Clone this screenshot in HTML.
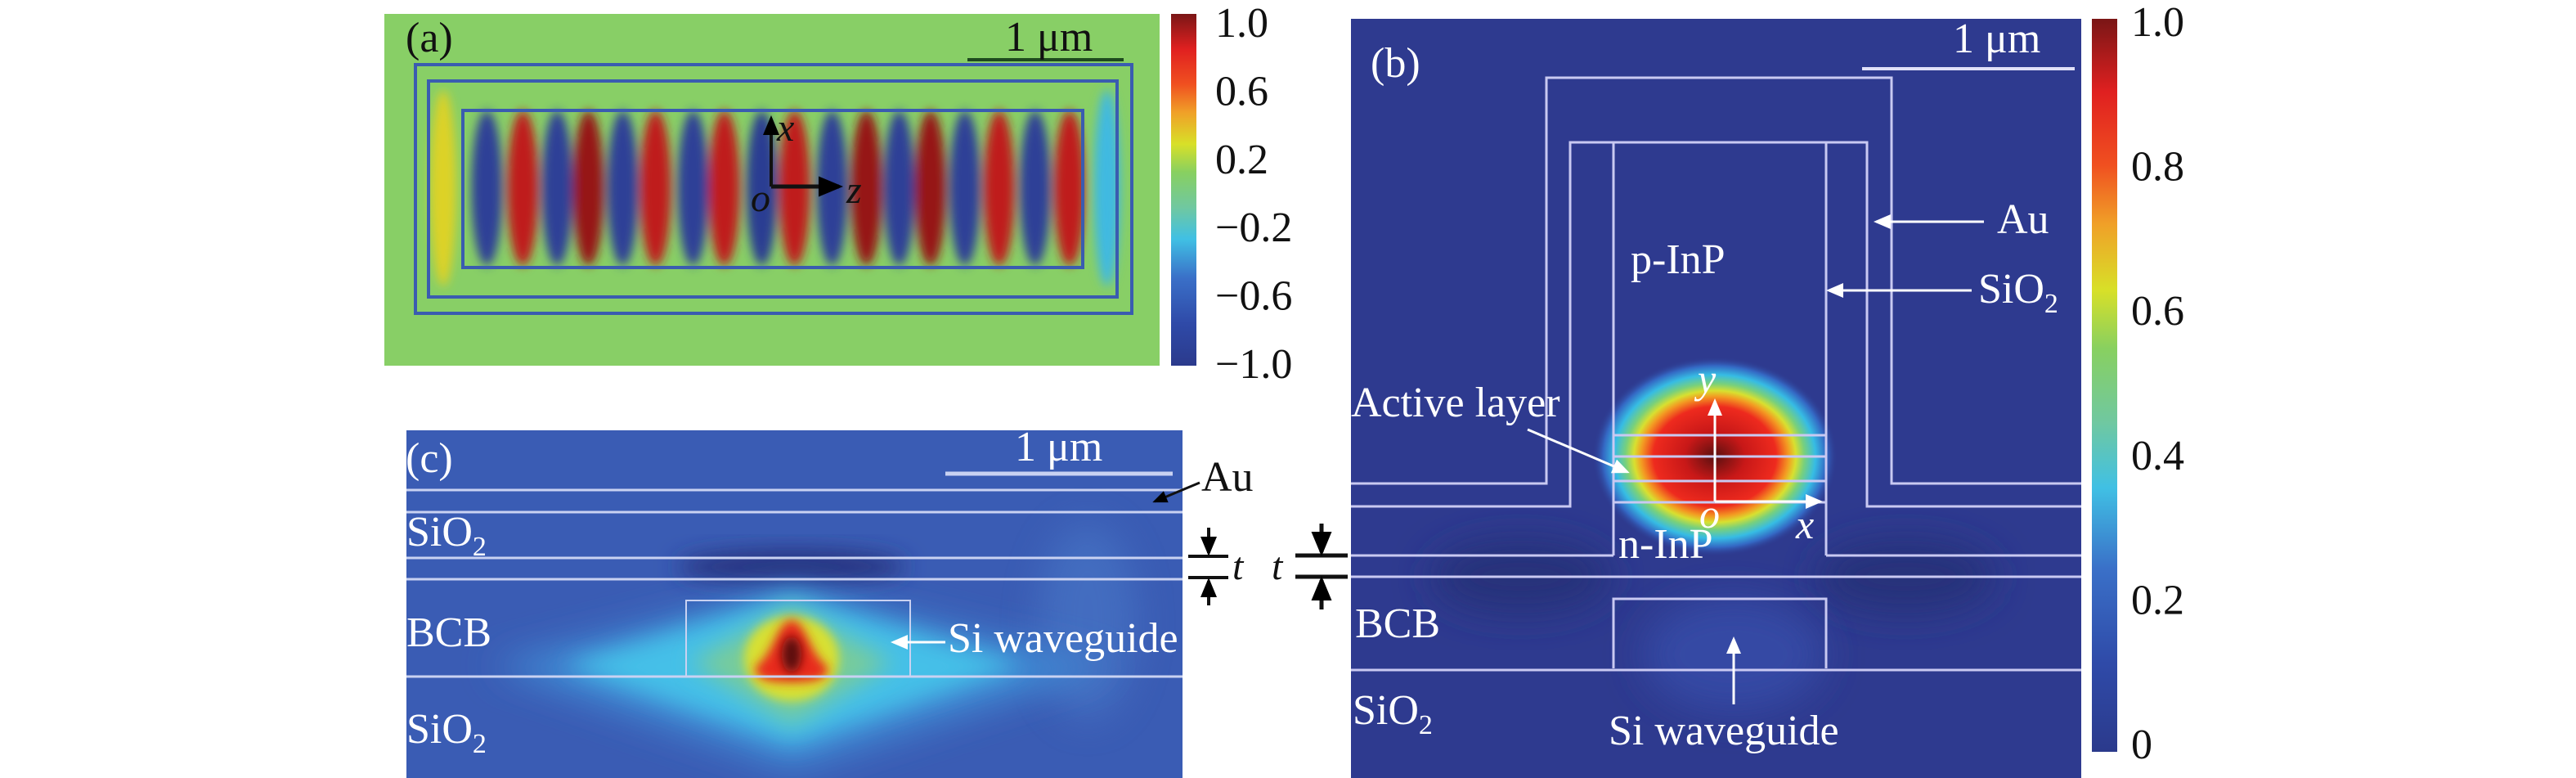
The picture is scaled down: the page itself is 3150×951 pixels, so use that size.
<!DOCTYPE html>
<html><head><meta charset="utf-8"><style>
html,body{margin:0;padding:0;background:#fff}
svg{display:block}
text{font-family:"Liberation Serif",serif}
</style></head><body>
<svg id="fig" width="3150" height="951" viewBox="0 0 3150 951" xmlns="http://www.w3.org/2000/svg">
<defs>
<filter id="blur8" x="-50%" y="-50%" width="200%" height="200%"><feGaussianBlur stdDeviation="6"/></filter>
<filter id="blur14" x="-50%" y="-50%" width="200%" height="200%"><feGaussianBlur stdDeviation="14"/></filter>
<filter id="blur20" x="-50%" y="-50%" width="200%" height="200%"><feGaussianBlur stdDeviation="22"/></filter>
<linearGradient id="cbA" x1="0" y1="1" x2="0" y2="0">
<stop offset="0" stop-color="#2b3a8c"/><stop offset="0.12" stop-color="#2f4aa8"/><stop offset="0.25" stop-color="#3a70c8"/>
<stop offset="0.36" stop-color="#40c0e4"/><stop offset="0.45" stop-color="#70c8a0"/><stop offset="0.55" stop-color="#88d060"/>
<stop offset="0.63" stop-color="#d8e028"/><stop offset="0.72" stop-color="#f0a028"/><stop offset="0.8" stop-color="#f05020"/>
<stop offset="0.9" stop-color="#e02020"/><stop offset="1" stop-color="#7a1616"/></linearGradient>
<linearGradient id="cbB" x1="0" y1="1" x2="0" y2="0">
<stop offset="0" stop-color="#2b3a8c"/><stop offset="0.12" stop-color="#2f4aa8"/><stop offset="0.25" stop-color="#3a70c8"/>
<stop offset="0.36" stop-color="#40c0e4"/><stop offset="0.45" stop-color="#70c8a0"/><stop offset="0.55" stop-color="#88d060"/>
<stop offset="0.63" stop-color="#d8e028"/><stop offset="0.72" stop-color="#f0a028"/><stop offset="0.8" stop-color="#f05020"/>
<stop offset="0.9" stop-color="#e02020"/><stop offset="1" stop-color="#7a1616"/></linearGradient>
<radialGradient id="blobB" cx="0.5" cy="0.5" r="0.5">
<stop offset="0" stop-color="#5a1010"/><stop offset="0.25" stop-color="#c81818"/><stop offset="0.5" stop-color="#ee2a1e"/>
<stop offset="0.6" stop-color="#f39a22"/><stop offset="0.66" stop-color="#d8e030"/><stop offset="0.73" stop-color="#78d07c"/>
<stop offset="0.82" stop-color="#36bce4"/><stop offset="0.91" stop-color="#3468c4"/><stop offset="1" stop-color="#2e3a8f" stop-opacity="0"/></radialGradient>
<marker id="arrW" markerWidth="8" markerHeight="8" refX="6" refY="4" orient="auto" markerUnits="strokeWidth"><path d="M0,1 L7,4 L0,7 z" fill="#fff"/></marker>
<marker id="arrK" markerWidth="6" markerHeight="6" refX="5" refY="3" orient="auto" markerUnits="strokeWidth"><path d="M0,0.5 L6,3 L0,5.5 z" fill="#000"/></marker>
<clipPath id="clipA"><rect x="470" y="17" width="948" height="430"/></clipPath>
<clipPath id="clipB"><rect x="1652" y="23" width="893" height="928"/></clipPath>
<clipPath id="clipC"><rect x="497" y="526" width="949" height="425"/></clipPath>
</defs>

<g>
<rect x="470" y="17" width="948" height="430" fill="#88cf66"/>
<g id="stripesA" clip-path="url(#clipA)" filter="url(#blur8)"></g>
<rect x="508" y="79" width="876" height="304" fill="none" stroke="#3a5cb0" stroke-width="4"/>
<rect x="524" y="99" width="842" height="264" fill="none" stroke="#3a5cb0" stroke-width="4"/>
<rect x="566" y="135" width="758" height="192" fill="none" stroke="#3a5cb0" stroke-width="4"/>
<line x1="1183" y1="73" x2="1374" y2="73" stroke="#1e4a1e" stroke-width="4"/>
<text x="1229" y="62" font-size="52" fill="#111">1 μm</text>
<text x="496" y="63" font-size="52" fill="#111">(a)</text>
<line x1="943" y1="228" x2="943" y2="145" stroke="#111" stroke-width="4" marker-end="url(#arrK)"/>
<line x1="943" y1="228" x2="1026" y2="228" stroke="#111" stroke-width="5" marker-end="url(#arrK)"/>
<text x="950" y="172" font-size="48" font-style="italic" fill="#111">x</text>
<text x="1035" y="248" font-size="48" font-style="italic" fill="#111">z</text>
<text x="918" y="258" font-size="48" font-style="italic" fill="#111">o</text>
<rect x="1432" y="17" width="31" height="430" fill="url(#cbA)"/>
<g id="ticksA"></g>
</g>

<g>
<rect x="1652" y="23" width="893" height="928" fill="#2e3a8f"/>
<g clip-path="url(#clipB)">
<ellipse cx="1860" cy="705" rx="110" ry="45" fill="#27307a" filter="url(#blur20)"/>
<ellipse cx="2330" cy="705" rx="110" ry="45" fill="#27307a" filter="url(#blur20)"/>
<ellipse cx="2120" cy="800" rx="110" ry="70" fill="#3448a4" filter="url(#blur20)"/>
<ellipse cx="2097" cy="558" rx="150" ry="122" fill="url(#blobB)"/>
</g>
<g fill="none" stroke="#c9c9f2" stroke-width="3">
<polyline points="1652,591 1891,591 1891,95 2313,95 2313,591 2545,591"/>
<polyline points="1652,619 1920,619 1920,174 2283,174 2283,619 2545,619"/>
<line x1="1973" y1="174" x2="1973" y2="679"/><line x1="2233" y1="174" x2="2233" y2="679"/>
<line x1="1652" y1="679" x2="1973" y2="679"/><line x1="2233" y1="679" x2="2545" y2="679"/>
<line x1="1652" y1="705" x2="2545" y2="705"/>
<line x1="1973" y1="532" x2="2233" y2="532"/><line x1="1973" y1="558" x2="2233" y2="558"/>
<line x1="1973" y1="588" x2="2233" y2="588"/><line x1="1973" y1="614" x2="2233" y2="614"/>
<polyline points="1973,817 1973,732 2233,732 2233,817"/>
<line x1="1652" y1="819" x2="2545" y2="819"/>
</g>
<line x1="2277" y1="84" x2="2537" y2="84" stroke="#e0e0f8" stroke-width="4"/>
<text x="2388" y="64" font-size="52" fill="#fff">1 μm</text>
<text x="1676" y="94" font-size="52" fill="#fff">(b)</text>
<text x="1994" y="334" font-size="52" fill="#fff">p-InP</text>
<text x="2442" y="285" font-size="52" fill="#fff">Au</text>
<line x1="2426" y1="271" x2="2294" y2="271" stroke="#fff" stroke-width="3" marker-end="url(#arrW)"/>
<text x="2419" y="370" font-size="52" fill="#fff">SiO<tspan font-size="34" dy="12">2</tspan></text>
<line x1="2411" y1="355" x2="2236" y2="355" stroke="#fff" stroke-width="3" marker-end="url(#arrW)"/>
<text x="1652" y="509" font-size="52" fill="#fff">Active layer</text>
<line x1="1868" y1="525" x2="1990" y2="577" stroke="#fff" stroke-width="3" marker-end="url(#arrW)"/>
<line x1="2097" y1="613" x2="2097" y2="490" stroke="#fff" stroke-width="3" marker-end="url(#arrW)"/>
<line x1="2097" y1="613" x2="2226" y2="613" stroke="#fff" stroke-width="3" marker-end="url(#arrW)"/>
<text x="2076" y="480" font-size="50" font-style="italic" fill="#fff">y</text>
<text x="2078" y="645" font-size="50" font-style="italic" fill="#fff">o</text>
<text x="2196" y="658" font-size="50" font-style="italic" fill="#fff">x</text>
<text x="1979" y="682" font-size="52" fill="#fff">n-InP</text>
<text x="1657" y="779" font-size="52" fill="#fff">BCB</text>
<text x="1654" y="885" font-size="52" fill="#fff">SiO<tspan font-size="34" dy="12">2</tspan></text>
<text x="1967" y="910" font-size="52" fill="#fff">Si waveguide</text>
<line x1="2120" y1="861" x2="2120" y2="781" stroke="#fff" stroke-width="3" marker-end="url(#arrW)"/>
<rect x="2558" y="23" width="31" height="896" fill="url(#cbB)"/>
<g id="ticksB"></g>
</g>

<g>
<rect x="497" y="526" width="949" height="425" fill="#3a5cb4"/>
<g clip-path="url(#clipC)">
<ellipse cx="968" cy="693" rx="140" ry="20" fill="#25307e" filter="url(#blur14)"/>
<ellipse cx="1330" cy="760" rx="60" ry="120" fill="#4a78c8" opacity="0.6" filter="url(#blur20)"/>
<polygon points="968,722 1360,813 968,940 600,813" fill="#3f8ad4" filter="url(#blur20)"/>
<polygon points="968,728 1250,813 968,910 690,813" fill="#44c0e8" filter="url(#blur14)"/>
<polygon points="968,742 1090,810 968,885 846,810" fill="#78cc9a" filter="url(#blur14)"/>
<ellipse cx="968" cy="805" rx="58" ry="52" fill="#d8e030" filter="url(#blur8)"/>
<path d="M968,758 C985,758 990,800 1012,815 C1015,832 990,834 968,834 C946,834 921,832 924,815 C946,800 951,758 968,758 Z" fill="#e82a1e" filter="url(#blur8)"/>
<ellipse cx="968" cy="800" rx="12" ry="22" fill="#5a1010" filter="url(#blur8)"/>
</g>
<g stroke="#c9d2f2" stroke-width="3">
<line x1="497" y1="599" x2="1446" y2="599"/><line x1="497" y1="626" x2="1446" y2="626"/>
<line x1="497" y1="682" x2="1446" y2="682"/><line x1="497" y1="708" x2="1446" y2="708"/>
<line x1="497" y1="827" x2="1446" y2="827"/>
<polyline points="839,827 839,734 1113,734 1113,827" fill="none" stroke-width="2"/>
</g>
<line x1="1156" y1="579" x2="1434" y2="579" stroke="#c9d2f2" stroke-width="5"/>
<text x="1241" y="563" font-size="52" fill="#fff">1 μm</text>
<text x="496" y="577" font-size="52" fill="#fff">(c)</text>
<text x="497" y="667" font-size="52" fill="#fff">SiO<tspan font-size="34" dy="12">2</tspan></text>
<text x="497" y="790" font-size="52" fill="#fff">BCB</text>
<text x="497" y="908" font-size="52" fill="#fff">SiO<tspan font-size="34" dy="12">2</tspan></text>
<text x="1159" y="797" font-size="52" fill="#fff">Si waveguide</text>
<line x1="1156" y1="785" x2="1092" y2="785" stroke="#fff" stroke-width="3" marker-end="url(#arrW)"/>
</g>
<text x="1469" y="600" font-size="52" fill="#111">Au</text>
<line x1="1467" y1="590" x2="1412" y2="613" stroke="#111" stroke-width="3" marker-end="url(#arrK)"/>

<g stroke="#111">
<line x1="1453" y1="680" x2="1502" y2="680" stroke-width="4"/><line x1="1453" y1="706" x2="1502" y2="706" stroke-width="4"/>
<line x1="1478" y1="645" x2="1478" y2="676" stroke-width="4" marker-end="url(#arrK)"/><line x1="1478" y1="740" x2="1478" y2="710" stroke-width="4" marker-end="url(#arrK)"/>
<line x1="1584" y1="679" x2="1648" y2="679" stroke-width="5"/><line x1="1584" y1="705" x2="1648" y2="705" stroke-width="5"/>
<line x1="1616" y1="640" x2="1616" y2="675" stroke-width="5" marker-end="url(#arrK)"/><line x1="1616" y1="745" x2="1616" y2="709" stroke-width="5" marker-end="url(#arrK)"/>
</g>
<text x="1507" y="708" font-size="48" font-style="italic" fill="#111">t</text>
<text x="1555" y="708" font-size="48" font-style="italic" fill="#111">t</text>
</svg>
<script>
const stripeZ = [-2.1,-1.82,-1.59,-1.37,-1.17,-0.95,-0.74,-0.50,-0.30,-0.06,0.15,0.39,0.61,0.82,1.02,1.24,1.46,1.69,1.91,2.15];
const stripeAmp = [0.3,-0.9,0.9,-0.9,1.0,-0.9,0.9,-0.9,0.9,-0.95,0.9,-0.9,1.0,-0.9,1.0,-0.9,0.9,-0.9,0.9,-0.3];
const tickLabelsA = ["1.0","0.6","0.2","\u22120.2","\u22120.6","\u22121.0"];
const tickValuesA = [1.0,0.6,0.2,-0.2,-0.6,-1.0];
const tickLabelsB = ["1.0","0.8","0.6","0.4","0.2","0"];
const tickValuesB = [1.0,0.8,0.6,0.4,0.2,0];

const NS = "http://www.w3.org/2000/svg";
const zOrigin = 943, pxPerUm = 191;
const zToX = z => zOrigin + z * pxPerUm;
function jet(v){
  const stops=[[-1,[43,58,140]],[-0.75,[47,74,168]],[-0.5,[58,112,200]],[-0.28,[64,192,228]],[-0.1,[112,200,160]],[0.1,[136,208,96]],[0.26,[216,224,40]],[0.44,[240,160,40]],[0.6,[240,80,32]],[0.8,[232,34,30]],[1,[150,24,22]]];
  for(let i=1;i<stops.length;i++){ if(v<=stops[i][0]){const a=stops[i-1],b=stops[i],t=(v-a[0])/(b[0]-a[0]);
    return "rgb("+a[1].map((c,k)=>Math.round(c+(b[1][k]-c)*t)).join(",")+")";}}
  return "rgb(150,24,22)";
}
const gA=document.getElementById("stripesA");
stripeZ.forEach((z,i)=>{
  const e=document.createElementNS(NS,"ellipse");
  const edge = Math.abs(stripeAmp[i])<0.5;
  e.setAttribute("cx",zToX(z)); e.setAttribute("cy",230);
  e.setAttribute("rx",edge?16:19); e.setAttribute("ry",edge?120:95);
  e.setAttribute("fill",jet(stripeAmp[i]));
  
  
  gA.appendChild(e);
});
function ticks(gid,labels,values,vmin,vmax,y0,y1,x){
  const g=document.getElementById(gid);
  labels.forEach((lab,i)=>{
    const y=y1-(values[i]-vmin)/(vmax-vmin)*(y1-y0);
    const t=document.createElementNS(NS,"text");
    t.setAttribute("x",x); t.setAttribute("y",y+17); t.setAttribute("font-size","52"); t.setAttribute("fill","#111");
    t.textContent=lab;
    
    
    g.appendChild(t);
  });
}
ticks("ticksA",tickLabelsA,tickValuesA,-1,1,28,445,1486);
ticks("ticksB",tickLabelsB,tickValuesB,0,1,27,910,2606);
</script>
</body></html>
